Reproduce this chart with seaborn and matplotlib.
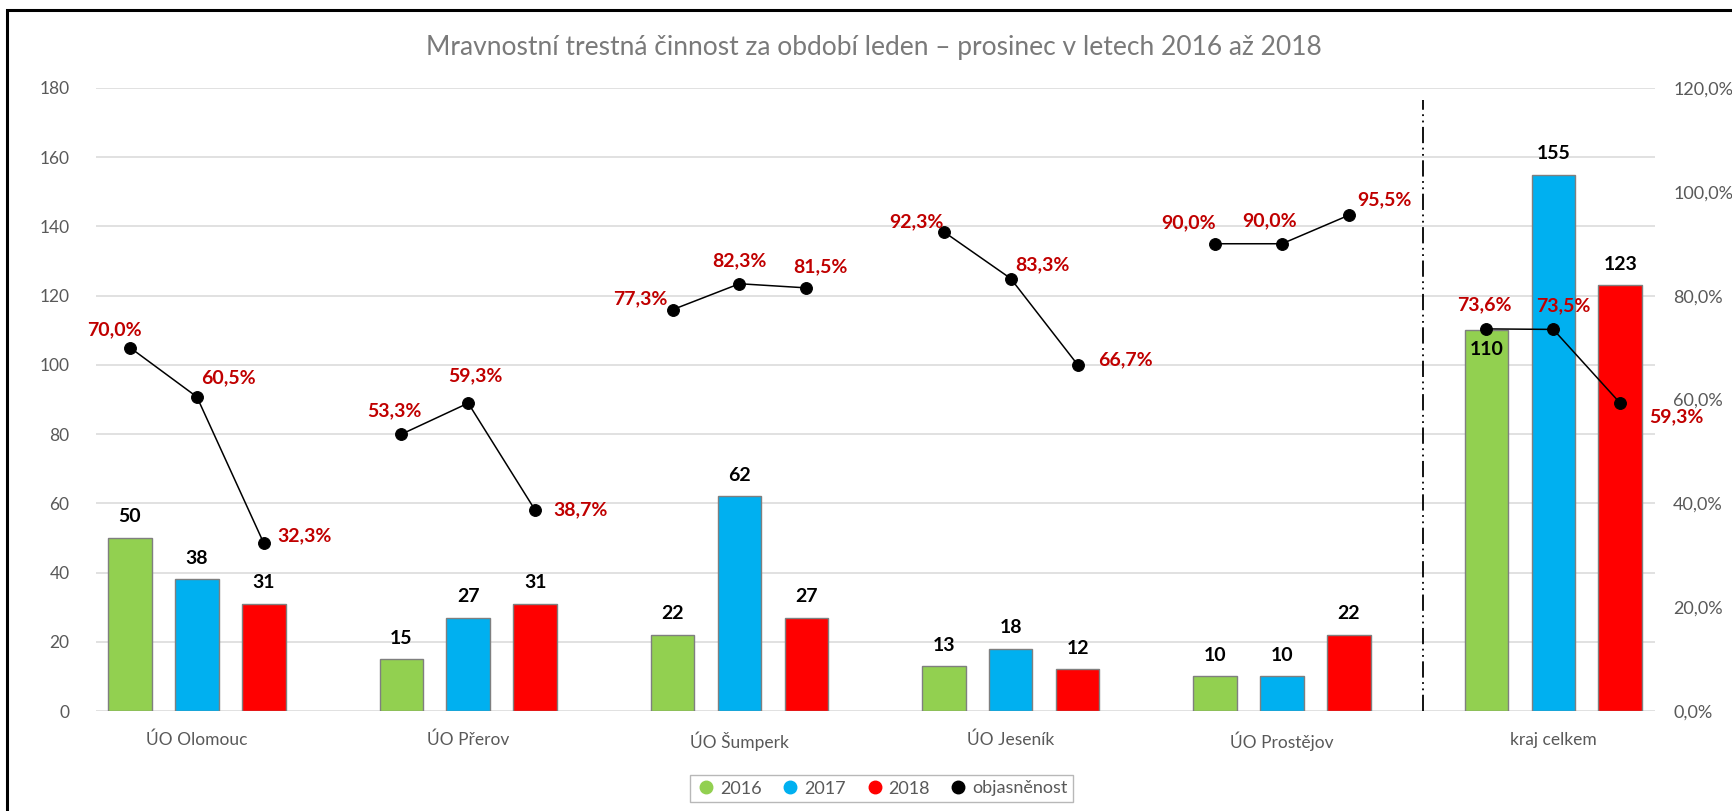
import numpy as np
import pandas as pd
import matplotlib
matplotlib.use("Agg")
import matplotlib.pyplot as plt
from matplotlib.lines import Line2D
from matplotlib.patches import Rectangle
import seaborn as sns

# ---------------- data ----------------
categories = ["ÚO Olomouc", "ÚO Přerov", "ÚO Šumperk", "ÚO Jeseník", "ÚO Prostějov", "kraj celkem"]
years = ["2016", "2017", "2018"]
values_2016 = [50, 15, 22, 13, 10, 110]
values_2017 = [38, 27, 62, 18, 10, 155]
values_2018 = [31, 31, 27, 12, 22, 123]
objasnenost_2016 = [70.0, 53.3, 77.3, 92.3, 90.0, 73.6]
objasnenost_2017 = [60.5, 59.3, 82.3, 83.3, 90.0, 73.5]
objasnenost_2018 = [32.3, 38.7, 81.5, 66.7, 95.5, 59.3]
left_ticks = [0, 20, 40, 60, 80, 100, 120, 140, 160, 180]
right_ticks = [0, 20, 40, 60, 80, 100, 120]
title = "Mravnostní trestná činnost za období leden – prosinec v letech 2016 až 2018"
legend_labels = ["2016", "2017", "2018", "objasněnost"]

# ---------------- style ----------------
sns.set_theme(style="white")
plt.rcParams["font.family"] = ["Lato", "DejaVu Sans"]
colors = ["#92D050", "#00B0F0", "#FF0000"]
gray_txt = "#595959"
pct_color = "#C00000"

df = pd.DataFrame({
    "kategorie": categories * 3,
    "rok": sum([[y] * len(categories) for y in years], []),
    "pocet": values_2016 + values_2017 + values_2018,
})

W, H = 1733, 811
fig = plt.figure(figsize=(W / 100, H / 100), dpi=100)
ax = fig.add_axes([96 / W, 1 - 711 / H, (1655 - 96) / W, (711 - 88) / H])

sns.barplot(data=df, x="kategorie", y="pocet", hue="rok", order=categories,
            hue_order=years, palette=colors, width=0.74, gap=0.35,
            edgecolor="#7F7F7F", linewidth=1.0, saturation=1, ax=ax, legend=False)

ax.set_ylim(0, 180)
ax.set_yticks(left_ticks)
ax.set_xlim(-0.372, 5.375)
ax.set_xlabel("")
ax.set_ylabel("")
ax.grid(axis="y", color="#D9D9D9", lw=1.1)
ax.set_axisbelow(True)
for s in ax.spines.values():
    s.set_visible(False)
ax.tick_params(axis="y", length=0, pad=19, labelsize=12.5, labelcolor=gray_txt)
ax.tick_params(axis="x", length=0, pad=15, labelsize=12.5, labelcolor=gray_txt)

# bar value labels
centers = []
for ci, cont in enumerate(ax.containers):
    cx = []
    for bi, bar in enumerate(cont):
        x = bar.get_x() + bar.get_width() / 2
        h = bar.get_height()
        cx.append(x)
        inside = (ci == 0 and bi == len(categories) - 1)
        ax.annotate(f"{int(round(h))}", (x, h), xytext=(0, -19 if inside else 21),
                    textcoords="offset pixels", ha="center", va="center",
                    fontsize=14, fontweight="bold", color="black")
    centers.append(cx)

# secondary axis – objasněnost
ax2 = ax.twinx()
obj = [objasnenost_2016, objasnenost_2017, objasnenost_2018]
line_df = pd.DataFrame({
    "x": [centers[k][i] for i in range(len(categories)) for k in range(3)],
    "y": [obj[k][i] for i in range(len(categories)) for k in range(3)],
    "grp": [i for i in range(len(categories)) for k in range(3)],
})
sns.lineplot(data=line_df, x="x", y="y", units="grp", estimator=None, sort=False,
             color="black", lw=1.1, marker="o", markersize=8.5,
             markeredgecolor="black", ax=ax2, legend=False)
ax2.set_ylim(0, 120)
ax2.set_yticks(right_ticks)
ax2.set_yticklabels([f"{t:.1f}".replace(".", ",") + "%" for t in right_ticks])
ax2.set_xlim(-0.372, 5.375)
ax2.set_xlabel("")
ax2.set_ylabel("")
ax2.grid(False)
for s in ax2.spines.values():
    s.set_visible(False)
ax2.tick_params(axis="y", length=0, pad=13, labelsize=13, labelcolor=gray_txt)

pct_offsets = [
    [(-16, -18), (32, -19), (41, -8)],
    [(-7, -24), (7, -27), (45, 0)],
    [(-32, -11), (0, -23), (14, -21)],
    [(-27, -10), (32, -14), (48, -5)],
    [(-27, -21), (-12, -23), (36, -15)],
    [(-2, -24), (10, -24), (56, 14)],
]
for i in range(len(categories)):
    for k in range(3):
        dx, dy = pct_offsets[i][k]
        v = obj[k][i]
        ax2.annotate(f"{v:.1f}".replace(".", ",") + "%", (centers[k][i], v),
                     xytext=(dx, -dy), textcoords="offset pixels",
                     ha="center", va="center", fontsize=14,
                     fontweight="bold", color=pct_color)

# separator arrow (dash-dot-dot)
xs = 4.52
ax.plot([xs, xs], [0, 176.5], color="black", lw=1.3,
        dashes=(9, 2.5, 1, 2.5, 1, 2.5), zorder=5)
ax.annotate("", xy=(xs, 180.4), xytext=(xs, 176),
            arrowprops=dict(arrowstyle="-|>", mutation_scale=20, lw=1,
                            color="black", shrinkA=0, shrinkB=0), zorder=5)

# title
fig.text(874 / W, 1 - 47 / H, title, ha="center", va="center",
         fontsize=19, fontweight="normal", color="#7A7A7A")

# legend
handles = [Line2D([], [], ls="none", marker="o", ms=9, color=c, mec=c)
           for c in colors + ["black"]]
leg = fig.legend(handles, legend_labels, loc="center",
                 bbox_to_anchor=(881.5 / W, 1 - 788.5 / H), ncol=4,
                 frameon=True, fancybox=False, edgecolor="#A6A6A6",
                 fontsize=13, handletextpad=0.15, columnspacing=1.0,
                 borderpad=0.3, handlelength=1.2)
for t in leg.get_texts():
    t.set_color(gray_txt)
leg.get_frame().set_linewidth(1.0)

# outer black frame (only left/top visible)
fig.patches.append(Rectangle((7.5 / W, -0.1), 1.2, 1 - 10.5 / H + 0.1,
                             transform=fig.transFigure, fill=False,
                             ec="black", lw=2.2, clip_on=False))

fig.savefig("out.png", dpi=100)
